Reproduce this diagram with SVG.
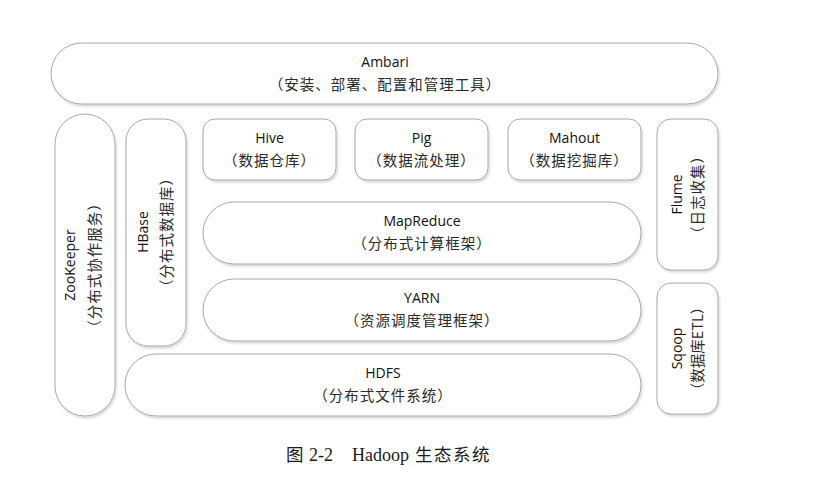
<svg xmlns="http://www.w3.org/2000/svg" width="822" height="484" viewBox="0 0 822 484">
<defs>
<filter id="sh" x="-10%" y="-10%" width="120%" height="130%">
<feDropShadow dx="1.2" dy="2" stdDeviation="1" flood-color="#000" flood-opacity="0.16"/>
</filter>
</defs>
<style>
.box{fill:#fff;stroke:#a8a8a8;stroke-width:1;filter:url(#sh)}
.en{font-family:"Open Sans","Liberation Sans",sans-serif;font-size:14px;fill:#111;text-anchor:middle}
.zh{font-family:"Noto Sans CJK SC",sans-serif;font-size:14.5px;letter-spacing:1px;fill:#2a2a2a;text-anchor:middle}
.zh.tight{letter-spacing:0}
.cap{font-family:"Liberation Serif","Noto Sans CJK SC",serif;font-size:18px;fill:#1a1a1a}
.capzh{font-family:"Noto Sans CJK SC",sans-serif;font-size:17.5px;fill:#1a1a1a}
</style>
<rect width="822" height="484" fill="#fff"/>
<g id="connectors"></g>
<g id="ambari">
<rect class="box" x="51" y="43" width="667" height="61" rx="30.5"/>
<text class="en" x="385" y="67">Ambari</text>
<text class="zh" x="385" y="90">（安装、部署、配置和管理工具）</text>
</g>
<g id="zookeeper">
<rect class="box" x="55" y="114" width="60" height="302" rx="30"/>
<g transform="translate(85,265) rotate(-90)">
<text class="en" x="0" y="-10">ZooKeeper</text>
<text class="zh" x="0" y="15">（分布式协作服务）</text>
</g>
</g>
<g id="hbase">
<rect class="box" x="126" y="119" width="60" height="227" rx="22"/>
<g transform="translate(156,232) rotate(-90)">
<text class="en" x="0" y="-8">HBase</text>
<text class="zh" x="0" y="16">（分布式数据库）</text>
</g>
</g>
<g id="hive">
<rect class="box" x="203" y="119" width="133" height="61" rx="12"/>
<text class="en" x="269.5" y="143">Hive</text>
<text class="zh" x="269.5" y="166">（数据仓库）</text>
</g>
<g id="pig">
<rect class="box" x="355" y="119" width="133" height="61" rx="12"/>
<text class="en" x="421.5" y="143">Pig</text>
<text class="zh" x="421.5" y="166">（数据流处理）</text>
</g>
<g id="mahout">
<rect class="box" x="508" y="119" width="133" height="61" rx="12"/>
<text class="en" x="574.5" y="143">Mahout</text>
<text class="zh" x="574.5" y="166">（数据挖掘库）</text>
</g>
<g id="flume">
<rect class="box" x="657" y="119" width="61" height="151" rx="14"/>
<g transform="translate(687.5,194.5) rotate(-90)">
<text class="en" x="0" y="-5.5">Flume</text>
<text class="zh" x="0" y="15">（日志收集）</text>
</g>
</g>
<g id="mapreduce">
<rect class="box" x="203" y="202" width="438" height="62" rx="31"/>
<text class="en" x="422" y="226">MapReduce</text>
<text class="zh" x="422" y="249">（分布式计算框架）</text>
</g>
<g id="yarn">
<rect class="box" x="203" y="279" width="438" height="62" rx="31"/>
<text class="en" x="422" y="303">YARN</text>
<text class="zh" x="422" y="326">（资源调度管理框架）</text>
</g>
<g id="sqoop">
<rect class="box" x="657" y="283" width="61" height="131" rx="14"/>
<g transform="translate(687.5,348.5) rotate(-90)">
<text class="en" x="0" y="-5.5">Sqoop</text>
<text class="zh tight" x="0" y="15">（数据库ETL）</text>
</g>
</g>
<g id="hdfs">
<rect class="box" x="125" y="354" width="516" height="62" rx="31"/>
<text class="en" x="383" y="378">HDFS</text>
<text class="zh" x="383" y="401">（分布式文件系统）</text>
</g>
<g id="caption">
<text class="cap" x="286" y="461"><tspan class="capzh">图</tspan><tspan x="309">2-2</tspan><tspan x="352">Hadoop</tspan><tspan class="capzh" x="415" letter-spacing="1.5">生态系统</tspan></text>
</g>
</svg>
